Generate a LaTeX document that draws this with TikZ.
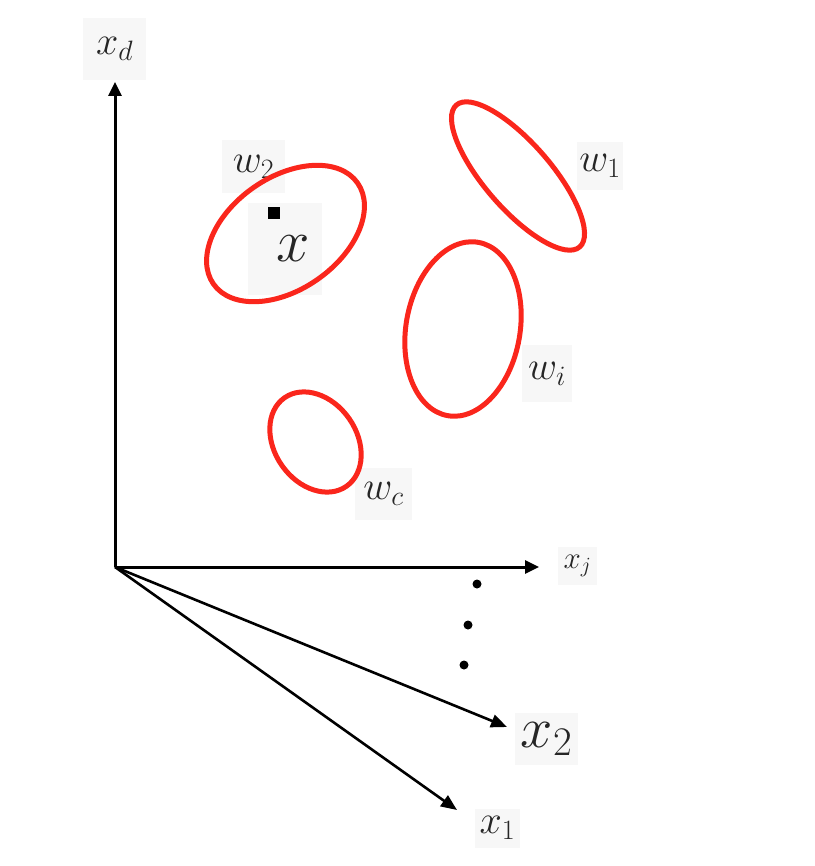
\documentclass[tikz,border=0pt]{standalone}
\usepackage{fix-cm}
\usetikzlibrary{arrows.meta}
\definecolor{ringred}{RGB}{250,38,28}
\begin{document}
\begin{tikzpicture}[x=1pt, y=1pt,
  lbl/.style={fill=black!3, inner sep=0pt, text=black!85},
  ring/.style={draw=ringred, line width=5pt},
  axis/.style={line width=3pt, -{Triangle[length=14pt,width=13pt]}},
  ray/.style={line width=2.6pt, -{Triangle[length=16pt,width=13pt]}}]
\useasboundingbox (0,0) rectangle (814,-866);
% Labels (light boxes)
\node[lbl, minimum width=63pt, minimum height=62pt, font=\fontsize{40}{40}\selectfont] (xd) at (114.5,-49) {$x_d$};
\node[lbl, minimum width=39pt, minimum height=38pt, font=\fontsize{31}{31}\selectfont] (xj) at (577.5,-566) {$x_j$};
\node[lbl, minimum width=63pt, minimum height=52pt, font=\fontsize{58}{58}\selectfont] (x2) at (546.5,-739) {$x_2$};
\node[lbl, minimum width=45pt, minimum height=39pt, font=\fontsize{40}{40}\selectfont] (x1) at (497.5,-828) {$x_1$};
\node[lbl, minimum width=63pt, minimum height=53pt, font=\fontsize{40}{40}\selectfont] (w2) at (253.5,-166.5) {$w_2$};
\node[lbl, minimum width=74pt, minimum height=92pt, font=\fontsize{60}{60}\selectfont] (x) at (285,-249) {\hspace*{16pt}$x$};
\node[lbl, minimum width=46pt, minimum height=48pt, font=\fontsize{40}{40}\selectfont] (w1) at (600,-166) {$w_1$};
\node[lbl, minimum width=50pt, minimum height=57pt, font=\fontsize{40}{40}\selectfont] (wi) at (547,-373.5) {$w_i$};
\node[lbl, minimum width=57pt, minimum height=52pt, font=\fontsize{40}{40}\selectfont] (wc) at (383.5,-494) {$w_c$};
% Clusters
\draw[ring, rotate around={35:(285.5,-233.5)}] (285.5,-233.5) ellipse (88 and 56);
\draw[ring, rotate around={-49:(518,-176)}] (518,-176) ellipse (94 and 33);
\draw[ring, rotate around={80:(463,-329)}] (463,-329) ellipse (88 and 57);
\draw[ring, rotate around={-55:(315.5,-442)}] (315.5,-442) ellipse (54 and 41);
% Sample point
\node[fill=black, minimum size=12pt, inner sep=0pt] (pt) at (274,-213) {};
% Axes
\coordinate (o) at (115,-567);
\coordinate (tipd) at (115,-82);
\coordinate (tipj) at (539,-567);
\coordinate (tip2) at (507,-727);
\coordinate (tip1) at (457,-810);
\draw[axis] (o) -- (tipd);
\draw[axis] (o) -- (tipj);
\draw[ray] (o) -- (tip2);
\draw[ray] (o) -- (tip1);
% Dots
\foreach \px/\py in {477/584, 468/625, 464/665}
  \fill (\px,-\py) circle (4.5);
\end{tikzpicture}
\end{document}
